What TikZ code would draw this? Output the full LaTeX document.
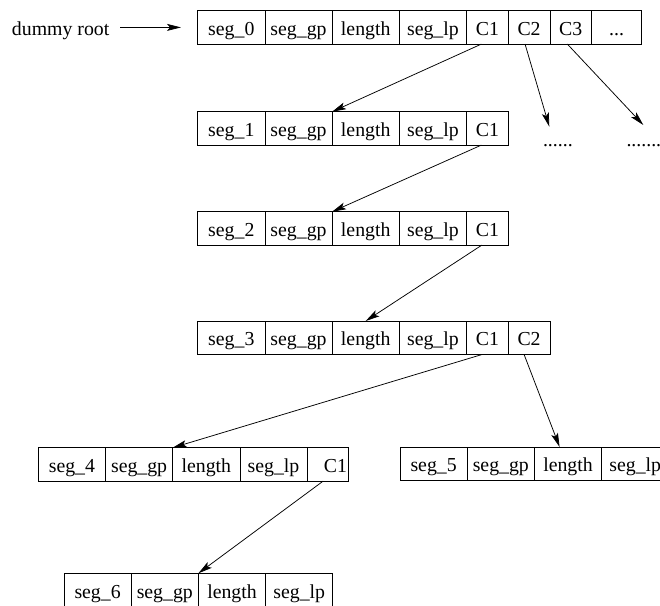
\documentclass[tikz,border=0pt]{standalone}
\usepackage{fontspec}
\setmainfont{Liberation Serif}
\usetikzlibrary{arrows.meta,calc}

\newcommand{\segfont}{\fontsize{19.8pt}{24pt}\selectfont}

\tikzset{
  cell/.style={draw, line width=0.8pt, rectangle, inner sep=0pt, outer sep=0pt,
    minimum height=33.4pt, minimum width=67.2pt,
    text height=18pt, text depth=1.5pt, font=\segfont},
  narrow/.style={cell, minimum width=41.7pt},
  link/.style={line width=0.75pt, -{Stealth[length=14pt,width=7pt,inset=3pt]}},
  plain/.style={inner sep=0pt, outer sep=0pt, font=\segfont},
}

\begin{document}
\begin{tikzpicture}[x=1pt, y=-1pt]
\useasboundingbox (0,0) rectangle (660,605);

% root segment
\node[plain, anchor=base west] (dummy) at (12,35) {dummy root};
\node[cell, anchor=north west] (r0a) at (197.7,10.7) {seg\_0};
\node[cell, anchor=west] (r0b) at (r0a.east) {seg\_gp};
\node[cell, anchor=west] (r0c) at (r0b.east) {length};
\node[cell, anchor=west] (r0d) at (r0c.east) {seg\_lp};
\node[narrow, anchor=west] (r0e) at (r0d.east) {C1};
\node[narrow, anchor=west] (r0f) at (r0e.east) {C2};
\node[narrow, anchor=west] (r0g) at (r0f.east) {C3};
\node[cell, minimum width=50pt, anchor=west] (r0h) at (r0g.east) {...};

% seg_1
\node[cell, anchor=north west] (r1a) at (197.7,111.7) {seg\_1};
\node[cell, anchor=west] (r1b) at (r1a.east) {seg\_gp};
\node[cell, anchor=west] (r1c) at (r1b.east) {length};
\node[cell, anchor=west] (r1d) at (r1c.east) {seg\_lp};
\node[narrow, anchor=west] (r1e) at (r1d.east) {C1};

% unexpanded children
\node[plain, anchor=base west] (dots1) at (543,146) {......};
\node[plain, anchor=base west] (dots2) at (626.5,146) {\makebox[32pt][l]{.......}};
\coordinate (c2end) at (549.3,126.7);
\coordinate (c3end) at (643.3,125);

% seg_2
\node[cell, anchor=north west] (r2a) at (197.7,211.7) {seg\_2};
\node[cell, anchor=west] (r2b) at (r2a.east) {seg\_gp};
\node[cell, anchor=west] (r2c) at (r2b.east) {length};
\node[cell, anchor=west] (r2d) at (r2c.east) {seg\_lp};
\node[narrow, anchor=west] (r2e) at (r2d.east) {C1};

% seg_3
\node[cell, anchor=north west] (r3a) at (197.7,321) {seg\_3};
\node[cell, anchor=west] (r3b) at (r3a.east) {seg\_gp};
\node[cell, anchor=west] (r3c) at (r3b.east) {length};
\node[cell, anchor=west] (r3d) at (r3c.east) {seg\_lp};
\node[narrow, anchor=west] (r3e) at (r3d.east) {C1};
\node[narrow, anchor=west] (r3f) at (r3e.east) {C2};

% seg_4
\node[cell, anchor=north west] (r4a) at (38.3,447.7) {seg\_4};
\node[cell, anchor=west] (r4b) at (r4a.east) {seg\_gp};
\node[cell, anchor=west] (r4c) at (r4b.east) {length};
\node[cell, anchor=west] (r4d) at (r4c.east) {seg\_lp};
\node[narrow, anchor=west, text width=38pt, align=right] (r4e) at (r4d.east) {C1};

% seg_5
\node[cell, anchor=north west] (r5a) at (400,447) {seg\_5};
\node[cell, anchor=west] (r5b) at (r5a.east) {seg\_gp};
\node[cell, anchor=west] (r5c) at (r5b.east) {length};
\node[cell, anchor=west] (r5d) at (r5c.east) {seg\_lp};

% seg_6
\node[cell, anchor=north west] (r6a) at (64,573.3) {seg\_6};
\node[cell, anchor=west] (r6b) at (r6a.east) {seg\_gp};
\node[cell, anchor=west] (r6c) at (r6b.east) {length};
\node[cell, anchor=west] (r6d) at (r6c.east) {seg\_lp};

% child pointers
\draw[link] ($(dummy.east |- r0a.west)+(10.7,0)$) -- ($(r0a.west)+(-16.7,0)$);
\draw[link] ([xshift=-6pt]r0e.south) -- (r1c.north west);
\draw[link] ([xshift=-4pt]r0f.south) -- (c2end);
\draw[link] ([xshift=-3.4pt]r0g.south) -- (c3end);
\draw[link] ([xshift=-6pt]r1e.south) -- (r2c.north west);
\draw[link] ([xshift=-5.5pt]r2e.south) -- (r3c.north);
\draw[link] ([xshift=-5pt]r3e.south) -- (r4c.north west);
\draw[link] ([xshift=-5pt]r3f.south) -- ([xshift=-8.4pt]r5c.north);
\draw[link] ([xshift=-4.8pt]r4e.south) -- (r6c.north west);
\end{tikzpicture}
\end{document}
